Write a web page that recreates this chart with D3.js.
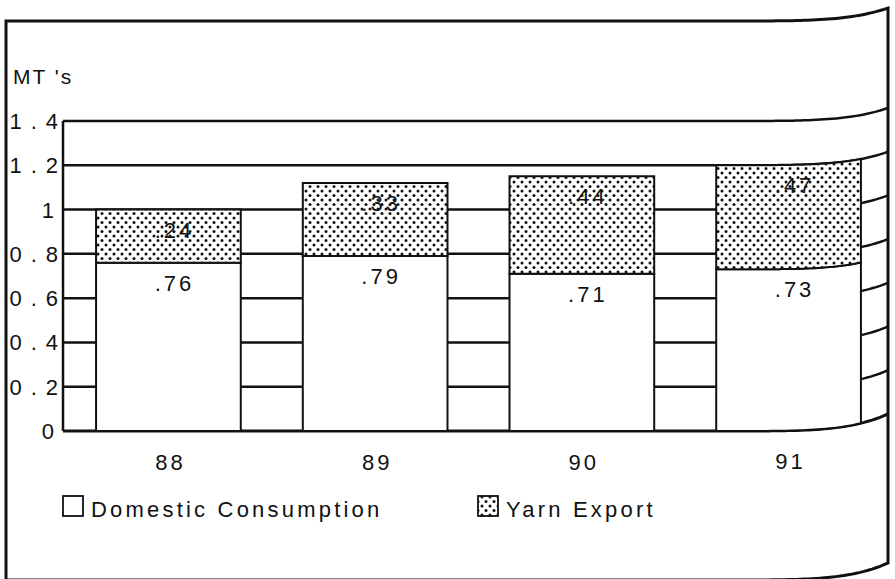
<!DOCTYPE html>
<html lang="en">
<head>
  <meta charset="UTF-8" />
  <title>MT's - Domestic Consumption and Yarn Export</title>
  <script src="https://d3js.org/d3.v7.min.js"></script>
  <style>
    body, html { margin: 0; padding: 0; background: #fff; }
    svg { display: block; }
    text { font-family: "Liberation Sans", Arial, sans-serif; fill: #111; }
  </style>
</head>
<body>
  <svg id="chart" width="895" height="579"></svg>
  <script>
    // Data
    const years = ["88", "89", "90", "91"];
    const domestic = [0.76, 0.79, 0.71, 0.73];
    const yarnExport = [0.24, 0.33, 0.44, 0.47];
    const yTicks = [0, 0.2, 0.4, 0.6, 0.8, 1, 1.2, 1.4];
    const yTickLabels = ["0", "0.2", "0.4", "0.6", "0.8", "1", "1.2", "1.4"];
    const domesticLabels = [".76", ".79", ".71", ".73"];
    const exportLabels = [".24", ".33", ".44", ".47"];
    const seriesNames = ["Domestic Consumption", "Yarn Export"];
    const unitLabel = "MT 's";

    const svg = d3.select("#chart");
    const ink = "#111";

    const y = d3.scaleLinear().domain([0, 1.4]).range([431, 121]);
    const x = d3.scaleBand().domain(years).range([63, 894])
      .paddingInner(0.3).paddingOuter(0.16);
    const plotRight = 888;

    // page curl on the right side of the scan: lift points as they near the edge
    function curl(px, py) {
      const t = Math.max(0, (px - 700) / 188);
      const a = 13 + 4 * Math.min(1, Math.max(0, (py - 120) / 310));
      return [px, py - a * Math.pow(t, 5)];
    }

    // sample straight segments so the curl bends them
    function warpPath(pts, closed) {
      const out = [];
      const list = closed ? pts.concat([pts[0]]) : pts;
      for (let i = 0; i < list.length - 1; i++) {
        const [x1, y1] = list[i], [x2, y2] = list[i + 1];
        const n = Math.max(1, Math.ceil(Math.abs(x2 - x1) / 4));
        for (let k = 0; k < n; k++) {
          out.push(curl(x1 + (x2 - x1) * k / n, y1 + (y2 - y1) * k / n));
        }
      }
      out.push(curl(...list[list.length - 1]));
      return d3.line()(out) + (closed ? "Z" : "");
    }

    // dotted fill for the export series
    const defs = svg.append("defs");
    const pat = defs.append("pattern").attr("id", "dots")
      .attr("patternUnits", "userSpaceOnUse").attr("width", 8).attr("height", 9);
    pat.append("rect").attr("width", 8).attr("height", 9).attr("fill", "#fff");
    pat.append("circle").attr("cx", 2).attr("cy", 2).attr("r", 1.5).attr("fill", ink);
    pat.append("circle").attr("cx", 6).attr("cy", 6.5).attr("r", 1.5).attr("fill", ink);

    // outer frame
    svg.append("path")
      .attr("d", warpPath([[6, 600], [6, 21], [plotRight, 21], [plotRight, 580], [6, 580]]))
      .attr("fill", "none").attr("stroke", ink).attr("stroke-width", 3);

    // gridlines and baseline
    yTicks.forEach(v => {
      svg.append("path")
        .attr("d", warpPath([[63, y(v)], [plotRight, y(v)]]))
        .attr("fill", "none").attr("stroke", ink).attr("stroke-width", v === 0 ? 3 : 2.5);
    });

    // y axis line
    svg.append("line")
      .attr("x1", 63).attr("x2", 63).attr("y1", y(1.4)).attr("y2", y(0))
      .attr("stroke", ink).attr("stroke-width", 2.5);

    // tick labels (single digits sit a little further left, as in the scan)
    svg.append("g").selectAll("text").data(yTicks).join("text")
      .attr("x", (d, i) => yTickLabels[i].length === 1 ? 63 : 67)
      .attr("y", d => y(d) + 8)
      .attr("text-anchor", "end")
      .attr("font-size", 22).attr("letter-spacing", 9)
      .text((d, i) => yTickLabels[i]);

    svg.append("text").attr("x", 13).attr("y", 84)
      .attr("font-size", 21).attr("letter-spacing", 2)
      .text(unitLabel);

    // stacked bars
    years.forEach((yr, i) => {
      const x0 = x(yr), x1 = x(yr) + x.bandwidth();
      const d = domestic[i], e = yarnExport[i];
      svg.append("path")
        .attr("d", warpPath([[x0, y(0)], [x0, y(d)], [x1, y(d)], [x1, y(0)]], true))
        .attr("fill", "#fff").attr("stroke", ink).attr("stroke-width", 2);
      svg.append("path")
        .attr("d", warpPath([[x0, y(d)], [x0, y(d + e)], [x1, y(d + e)], [x1, y(d)]], true))
        .attr("fill", "url(#dots)").attr("stroke", ink).attr("stroke-width", 2);

      const cx = x0 + x.bandwidth() / 2 + 6;
      const [, dy] = curl(cx, y(d) + 28);
      svg.append("text").attr("x", cx).attr("y", dy)
        .attr("text-anchor", "middle").attr("font-size", 22).attr("letter-spacing", 3)
        .text(domesticLabels[i]);
      const [, ey] = curl(cx, y(d + e) + 28);
      svg.append("text").attr("x", cx).attr("y", ey)
        .attr("text-anchor", "middle").attr("font-size", 22).attr("letter-spacing", 3)
        .text(exportLabels[i]);

      const [, ly] = curl(cx, 470);
      svg.append("text").attr("x", cx - 4).attr("y", ly)
        .attr("text-anchor", "middle").attr("font-size", 22).attr("letter-spacing", 3)
        .text(yr);
    });

    // legend
    const legendX = [63, 478];
    seriesNames.forEach((name, i) => {
      svg.append("rect").attr("x", legendX[i]).attr("y", 496)
        .attr("width", 20).attr("height", 20)
        .attr("fill", i === 0 ? "#fff" : "url(#dots)")
        .attr("stroke", ink).attr("stroke-width", 1.8);
      svg.append("text").attr("x", legendX[i] + 28).attr("y", 517)
        .attr("font-size", 22).attr("letter-spacing", 3.2)
        .text(name);
    });
  </script>
</body>
</html>
